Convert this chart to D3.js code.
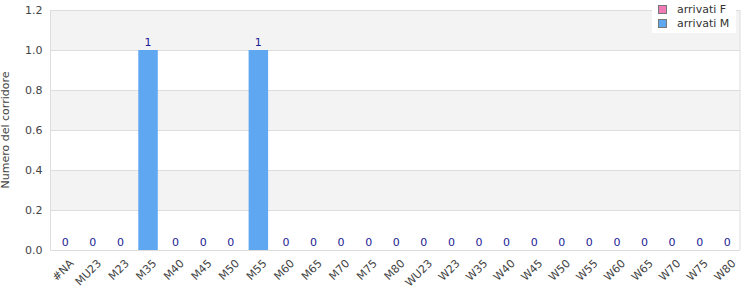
<!DOCTYPE html>
<html><head><meta charset="utf-8">
<script src="https://cdn.jsdelivr.net/npm/d3@7"></script>
<style>body{margin:0;background:#fff;font-family:"DejaVu Sans",sans-serif;}</style>
</head><body>
<svg id="c" width="750" height="300"></svg>
<script>
const categories = ["#NA","MU23","M23","M35","M40","M45","M50","M55","M60","M65","M70","M75","M80","WU23","W23","W35","W40","W45","W50","W55","W60","W65","W70","W75","W80"];
const arrivatiF = [0,0,0,0,0,0,0,0,0,0,0,0,0,0,0,0,0,0,0,0,0,0,0,0,0];
const arrivatiM = [0,0,0,1,0,0,0,1,0,0,0,0,0,0,0,0,0,0,0,0,0,0,0,0,0];
const yTicks = [0,0.2,0.4,0.6,0.8,1.0,1.2];
const seriesNames = ["arrivati F","arrivati M"];
const colors = ["#f07ab5","#60a7f2"];

const svg = d3.select("#c");
const m = {l:50.5, r:740, t:10, b:250};
const x = d3.scaleBand().domain(categories).range([m.l, m.r]);
const y = d3.scaleLinear().domain([0,1.2]).range([m.b, m.t]);

for (let i = 0; i < yTicks.length - 1; i++) {
  svg.append("rect").attr("x", m.l).attr("width", m.r - m.l)
    .attr("y", y(yTicks[i+1])).attr("height", y(yTicks[i]) - y(yTicks[i+1]))
    .attr("fill", i % 2 === 1 ? "#f3f3f3" : "#ffffff");
}
svg.append("g").selectAll("line").data(yTicks).join("line")
  .attr("x1", m.l).attr("x2", m.r).attr("y1", d => Math.round(y(d)) + 0.5).attr("y2", d => Math.round(y(d)) + 0.5)
  .attr("stroke", "#dddddd");
svg.append("line").attr("x1", m.l).attr("x2", m.l).attr("y1", m.t).attr("y2", m.b).attr("stroke", "#dddddd");
svg.append("line").attr("x1", m.r).attr("x2", m.r).attr("y1", m.t).attr("y2", m.b).attr("stroke", "#dddddd");

const yAxis = d3.axisLeft(y).tickValues(yTicks).tickFormat(d3.format(".1f")).tickSize(0).tickPadding(8);
const yg = svg.append("g").attr("transform", `translate(${m.l},0)`).call(yAxis);
yg.select(".domain").remove();
yg.selectAll("text").attr("fill", "#444").style("font-size", "11px").style("font-family", "DejaVu Sans");

const xAxis = d3.axisBottom(x).tickSize(0).tickPadding(6);
const xg = svg.append("g").attr("transform", `translate(0,${m.b})`).call(xAxis);
xg.select(".domain").remove();
xg.selectAll("text").attr("fill", "#444").style("font-size", "11px").style("font-family", "DejaVu Sans")
  .attr("text-anchor", "end").attr("dy", "0.3em").attr("dx", "0.2em")
  .attr("transform", "translate(2,9) rotate(-45)");

const barW = 19.5;
svg.append("g").selectAll("rect").data(categories).join("rect")
  .attr("x", d => x(d) + (x.bandwidth() - barW) / 2 + 1)
  .attr("width", barW)
  .attr("y", (d, i) => y(arrivatiM[i]))
  .attr("height", (d, i) => y(0) - y(arrivatiM[i]))
  .attr("fill", colors[1]);

svg.append("g").selectAll("text").data(categories).join("text")
  .attr("x", d => x(d) + x.bandwidth() / 2 + 1)
  .attr("y", (d, i) => y(arrivatiM[i]) - 4)
  .attr("text-anchor", "middle")
  .attr("fill", "#1c1c96")
  .style("font-size", "11px")
  .text((d, i) => arrivatiM[i]);

svg.append("text").attr("transform", `translate(9,${(m.t + m.b) / 2}) rotate(-90)`)
  .attr("text-anchor", "middle").attr("fill", "#444").style("font-size", "11px")
  .text("Numero del corridore");

const lg = svg.append("g");
lg.append("rect").attr("x", 652).attr("y", 0).attr("width", 84).attr("height", 33).attr("fill", "#fff");
seriesNames.forEach((s, i) => {
  lg.append("rect").attr("x", 658.5).attr("y", 5.5 + i * 14).attr("width", 8).attr("height", 8)
    .attr("fill", colors[i]).attr("stroke", "#777");
  lg.append("text").attr("x", 677).attr("y", 13 + i * 14).attr("fill", "#333")
    .style("font-size", "11px").text(s);
});
</script>
</body></html>
